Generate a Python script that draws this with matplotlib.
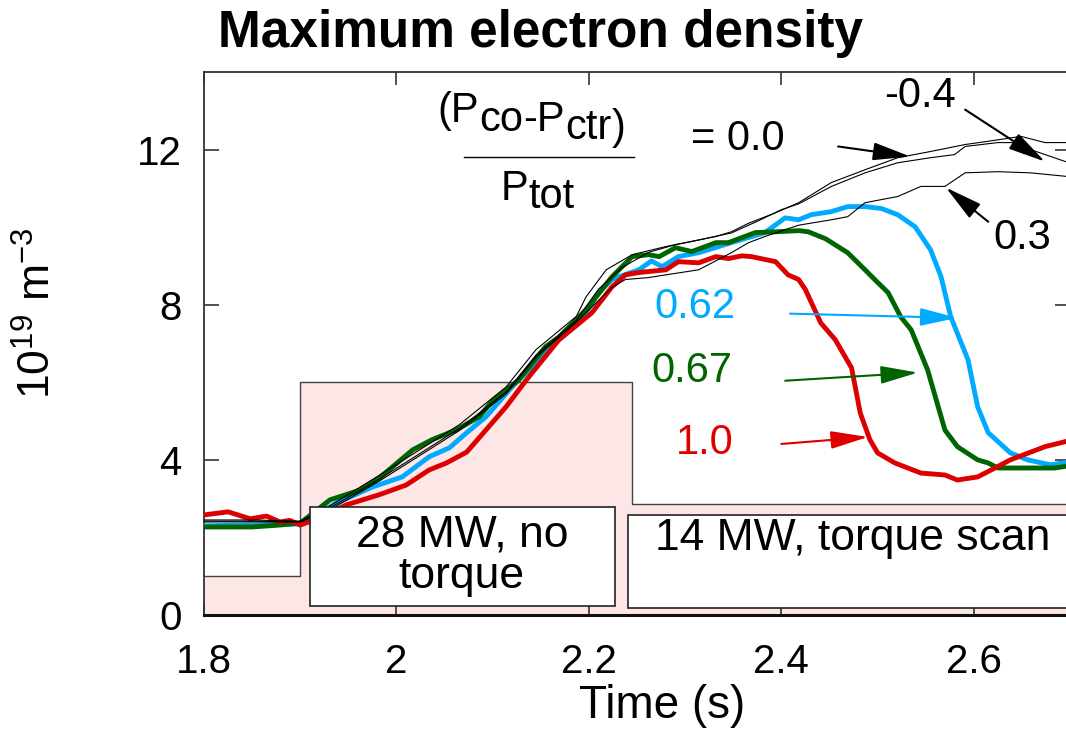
import matplotlib
matplotlib.use("Agg")
import matplotlib.pyplot as plt
from matplotlib.patches import Rectangle
from matplotlib.ticker import FormatStrFormatter

plt.rcParams['font.family'] = ['Liberation Sans', 'DejaVu Sans']
plt.rcParams['mathtext.fontset'] = 'custom'
plt.rcParams['mathtext.rm'] = 'Liberation Sans'
plt.rcParams['mathtext.it'] = 'Liberation Sans:italic'
plt.rcParams['mathtext.bf'] = 'Liberation Sans:bold'

# beam power waveform (scaled), drawn as the pink background
power_t = [1.8, 1.9, 1.9, 2.245, 2.245, 2.7]
power = [1.0, 1.0, 6.0, 6.0, 2.85, 2.85]

# (Pco-Pctr)/Ptot = 1.0
red_t = [1.80, 1.825, 1.848, 1.865, 1.879, 1.889, 1.90, 1.92, 1.948, 1.982, 2.010, 2.034,
         2.052, 2.073, 2.093, 2.114, 2.135, 2.169, 2.203, 2.224, 2.238, 2.252, 2.280, 2.293,
         2.314, 2.332, 2.345, 2.359, 2.369, 2.394, 2.407, 2.418, 2.425, 2.441, 2.456, 2.473,
         2.482, 2.492, 2.500, 2.518, 2.545, 2.570, 2.583, 2.604, 2.622, 2.638, 2.674, 2.70]
red_n = [2.58, 2.66, 2.48, 2.55, 2.40, 2.44, 2.32, 2.50, 2.84, 3.10, 3.35, 3.74,
         3.92, 4.20, 4.77, 5.37, 6.06, 7.10, 7.79, 8.46, 8.77, 8.83, 8.90, 9.11,
         9.08, 9.24, 9.19, 9.26, 9.24, 9.11, 8.77, 8.65, 8.39, 7.53, 7.10, 6.37,
         5.21, 4.52, 4.18, 3.92, 3.66, 3.61, 3.48, 3.56, 3.79, 4.00, 4.34, 4.50]

# 0.67
green_t = [1.80, 1.85, 1.879, 1.90, 1.931, 1.962, 1.982, 2.017, 2.037, 2.062, 2.086, 2.099,
           2.127, 2.155, 2.169, 2.197, 2.224, 2.245, 2.262, 2.273, 2.290, 2.307, 2.332, 2.345,
           2.373, 2.394, 2.418, 2.428, 2.446, 2.469, 2.487, 2.497, 2.511, 2.524, 2.535, 2.552,
           2.570, 2.583, 2.604, 2.615, 2.625, 2.684, 2.70]
green_n = [2.27, 2.27, 2.32, 2.37, 2.97, 3.22, 3.53, 4.26, 4.52, 4.77, 5.11, 5.50,
           6.06, 6.92, 7.17, 7.87, 8.72, 9.24, 9.29, 9.24, 9.47, 9.37, 9.60, 9.60,
           9.86, 9.88, 9.91, 9.88, 9.70, 9.34, 8.90, 8.65, 8.31, 7.69, 7.35, 6.32,
           4.77, 4.34, 4.00, 3.92, 3.79, 3.79, 3.85]

# 0.62
blue_t = [1.80, 1.85, 1.90, 1.938, 1.975, 2.006, 2.034, 2.055, 2.073, 2.093, 2.120, 2.148,
          2.169, 2.190, 2.210, 2.224, 2.231, 2.252, 2.265, 2.276, 2.293, 2.314, 2.348, 2.383,
          2.404, 2.418, 2.431, 2.452, 2.469, 2.487, 2.504, 2.521, 2.539, 2.555, 2.566, 2.576,
          2.594, 2.604, 2.615, 2.638, 2.656, 2.680, 2.70]
blue_n = [2.30, 2.32, 2.35, 2.89, 3.30, 3.56, 4.08, 4.31, 4.70, 5.11, 5.88, 6.58,
          7.10, 7.53, 8.31, 8.65, 8.72, 8.90, 9.13, 8.98, 9.24, 9.34, 9.60, 9.86,
          10.24, 10.19, 10.32, 10.40, 10.53, 10.53, 10.48, 10.32, 10.01, 9.42, 8.72, 7.69,
          6.58, 5.37, 4.70, 4.18, 4.00, 3.87, 3.95]

# thin black reference shots: 0.0, -0.4, 0.3
zero_t = [1.80, 1.85, 1.90, 1.93, 1.982, 2.065, 2.114, 2.145, 2.187, 2.197, 2.218, 2.245,
          2.280, 2.301, 2.332, 2.348, 2.366, 2.394, 2.418, 2.452, 2.487, 2.521, 2.555, 2.591,
          2.611, 2.649, 2.674, 2.70]
zero_n = [2.45, 2.45, 2.42, 2.80, 3.60, 4.90, 5.88, 6.84, 7.70, 8.20, 8.90, 9.29,
          9.50, 9.60, 9.76, 9.88, 10.10, 10.37, 10.63, 11.15, 11.48, 11.79, 11.95, 12.13,
          12.20, 12.34, 12.18, 12.18]

m04_t = [1.80, 1.85, 1.90, 1.93, 1.982, 2.065, 2.114, 2.145, 2.187, 2.210, 2.234, 2.262,
         2.290, 2.320, 2.348, 2.375, 2.400, 2.418, 2.452, 2.487, 2.521, 2.555, 2.580, 2.591,
         2.625, 2.642, 2.659, 2.70]
m04_n = [2.40, 2.40, 2.40, 2.75, 3.50, 4.80, 5.75, 6.70, 7.60, 8.40, 8.95, 9.35,
         9.55, 9.70, 9.85, 10.15, 10.45, 10.60, 11.05, 11.40, 11.66, 11.79, 11.87, 12.08,
         12.18, 12.18, 12.00, 11.65]

p03_t = [1.80, 1.85, 1.90, 1.93, 1.982, 2.065, 2.114, 2.145, 2.187, 2.224, 2.238, 2.262,
         2.280, 2.314, 2.348, 2.366, 2.383, 2.418, 2.452, 2.469, 2.487, 2.521, 2.545, 2.570,
         2.591, 2.625, 2.659, 2.70]
p03_n = [2.42, 2.42, 2.40, 2.70, 3.45, 4.75, 5.70, 6.65, 7.55, 8.45, 8.65, 8.70,
         8.77, 8.90, 9.34, 9.60, 9.76, 10.05, 10.19, 10.27, 10.63, 10.79, 11.05, 11.05,
         11.40, 11.43, 11.40, 11.30]

BLUE = '#00aaff'
GREEN = '#006400'
RED = '#dd0000'

fig = plt.figure(figsize=(10.66, 7.29), dpi=100)
ax = fig.add_axes([204 / 1066, 114 / 729, 866 / 1066, 543 / 729])

ax.fill_between(power_t, 0, power, color='#fde6e6', lw=0, zorder=1)
ax.plot(power_t, power, color='#444444', lw=1.0, zorder=1.5)

ax.plot(blue_t, blue_n, color=BLUE, lw=3.5, zorder=3)
ax.plot(green_t, green_n, color=GREEN, lw=3.5, zorder=3.1)
ax.plot(red_t, red_n, color=RED, lw=3.5, zorder=3.2)
for t, n in [(zero_t, zero_n), (m04_t, m04_n), (p03_t, p03_n)]:
    ax.plot(t, n, color='black', lw=0.8, zorder=3.5)

# white text boxes over the curves
ax.add_patch(Rectangle((1.910, 0.22), 0.317, 2.57, facecolor='white',
                       edgecolor='#222222', lw=1.2, zorder=5))
ax.text(2.068, 0.70, '28 MW, no\ntorque', ha='center', va='baseline',
        ma='center', fontsize=32, linespacing=1.0, zorder=6)
ax.add_patch(Rectangle((2.241, 0.18), 0.5, 2.40, facecolor='white',
                       edgecolor='#222222', lw=1.2, zorder=5, clip_on=True))
ax.text(2.269, 1.68, '14 MW, torque scan', ha='left', va='baseline',
        fontsize=32, zorder=6)


def chain(x, y, pieces, size):
    # pieces of (text, lowered?) written one after another; subscripts stay full size
    prev = ax.text(x, y, pieces[0][0], fontsize=size, ha='left', va='baseline')
    for txt, low in pieces[1:]:
        prev = ax.annotate(txt, xy=(1, 0), xycoords=prev,
                           xytext=(0, -6 if low else 0), textcoords='offset points',
                           fontsize=size, ha='left', va='bottom')
    return prev


# fraction label
chain(2.043, 12.70, [('(P', False), ('co', True), ('-P', False), ('ctr', True), (')', False)], 30)
ax.plot([2.070, 2.247], [11.82, 11.82], color='black', lw=1.0)
chain(2.108, 10.70, [('P', False), ('tot', True)], 30)


def arrow(text, xy, xytext, color, tx, ty):
    ax.annotate('', xy=xy, xytext=xytext,
                arrowprops=dict(arrowstyle='-|>,head_length=2.3,head_width=0.55',
                                mutation_scale=10, color=color, lw=1.5,
                                shrinkA=0, shrinkB=0), zorder=7)
    ax.text(tx, ty, text, color=color, ha='center', va='center', fontsize=30, zorder=7)


arrow('= 0.0', (2.534, 11.82), (2.459, 12.08), 'black', 2.355, 12.26)
arrow('-0.4', (2.674, 11.69), (2.591, 13.03), 'black', 2.544, 13.37)
arrow('0.3', (2.571, 11.02), (2.615, 10.14), 'black', 2.650, 9.73)
arrow('0.62', (2.583, 7.66), (2.409, 7.77), BLUE, 2.310, 7.95)
arrow('0.67', (2.542, 6.25), (2.404, 6.04), GREEN, 2.307, 6.30)
arrow('1.0', (2.490, 4.59), (2.400, 4.41), RED, 2.320, 4.44)

ax.set_xlim(1.8, 2.7)
ax.set_ylim(0, 14)
ax.set_xticks([1.8, 2.0, 2.2, 2.4, 2.6])
ax.set_yticks([0, 4, 8, 12])
ax.xaxis.set_major_formatter(FormatStrFormatter('%g'))
ax.tick_params(axis='x', direction='in', top=True, length=9, width=1.2,
               labelsize=29, pad=20, color='#333333')
ax.tick_params(axis='y', direction='in', right=True, length=11, width=1.2,
               labelsize=29, pad=16, color='#333333')
for s in ax.spines.values():
    s.set_color('#333333')
    s.set_linewidth(1.3)
ax.spines['bottom'].set_linewidth(2.2)
ax.spines['bottom'].set_color('#111111')

ax.set_xlabel('Time (s)', fontsize=33)
ax.xaxis.label.set_va('center')
ax.xaxis.set_label_coords(0.529, -0.168)
ax.set_ylabel(r'10$^{19}$ m$^{-3}$', fontsize=32)
ax.yaxis.label.set_va('center')
ax.yaxis.set_label_coords(-0.192, 0.556)

fig.text(218 / 1066, 1 - 47 / 729, 'Maximum electron density', fontsize=37,
         fontweight='bold', ha='left', va='baseline')

fig.savefig('out.png', dpi=100)
